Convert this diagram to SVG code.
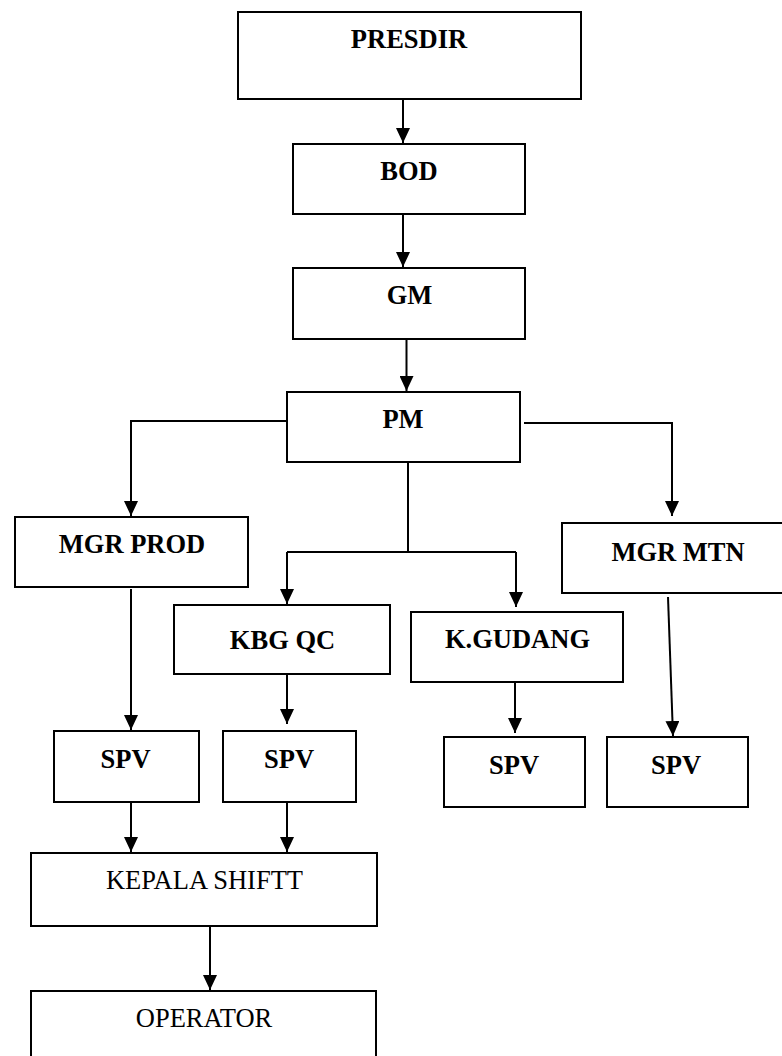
<svg xmlns="http://www.w3.org/2000/svg" width="782" height="1056" viewBox="0 0 782 1056">
<style>
.box{fill:#fff;stroke:#000;stroke-width:2}
.t{font-family:"Liberation Serif","Times New Roman",serif;font-size:26.5px;fill:#000;text-anchor:middle}
.b{font-weight:bold}
.c{fill:none;stroke:#000;stroke-width:2}
</style>
<defs>
<marker id="ah" viewBox="0 0 15 14" refX="15" refY="7" markerWidth="15" markerHeight="14" markerUnits="userSpaceOnUse" orient="auto">
<path d="M0,0 L15,7 L0,14 Z" fill="#000"/>
</marker>
</defs>
<rect width="782" height="1056" fill="#fff"/>
<g id="connectors">
<path class="c" d="M403,99 V143" marker-end="url(#ah)"/>
<path class="c" d="M403,214 V267" marker-end="url(#ah)"/>
<path class="c" d="M406.5,339 V391" marker-end="url(#ah)"/>
<path class="c" d="M288,421 H131 V516" marker-end="url(#ah)"/>
<path class="c" d="M524,423 H672 V516" marker-end="url(#ah)"/>
<path class="c" d="M408,462 V552 M287,552 H516"/>
<path class="c" d="M287,552 V604" marker-end="url(#ah)"/>
<path class="c" d="M516,552 V607" marker-end="url(#ah)"/>
<path class="c" d="M131,589 V730" marker-end="url(#ah)"/>
<path class="c" d="M287,671 V724" marker-end="url(#ah)"/>
<path class="c" d="M515,677 V733" marker-end="url(#ah)"/>
<path class="c" d="M668,597 L673,736" marker-end="url(#ah)"/>
<path class="c" d="M131,802 V852" marker-end="url(#ah)"/>
<path class="c" d="M287,802 V852" marker-end="url(#ah)"/>
<path class="c" d="M210,926 V990" marker-end="url(#ah)"/>
</g>
<g id="presdir"><rect class="box" x="238" y="12" width="343" height="87"/><text class="t b" x="409" y="48">PRESDIR</text></g>
<g id="bod"><rect class="box" x="293" y="144" width="232" height="70"/><text class="t b" x="409" y="180">BOD</text></g>
<g id="gm"><rect class="box" x="293" y="268" width="232" height="71"/><text class="t b" x="409.5" y="304">GM</text></g>
<g id="pm"><rect class="box" x="287" y="392" width="233" height="70"/><text class="t b" x="403" y="428">PM</text></g>
<g id="mgr-prod"><rect class="box" x="15" y="517" width="233" height="70"/><text class="t b" x="132" y="553">MGR PROD</text></g>
<g id="mgr-mtn"><rect class="box" x="562" y="523" width="224" height="70"/><text class="t b" x="678" y="561">MGR MTN</text></g>
<g id="kbg-qc"><rect class="box" x="174" y="605" width="216" height="69"/><text class="t b" x="282.5" y="649">KBG QC</text></g>
<g id="k-gudang"><rect class="box" x="411" y="612" width="212" height="70"/><text class="t b" x="517.5" y="648">K.GUDANG</text></g>
<g id="spv-1"><rect class="box" x="54" y="731" width="145" height="71"/><text class="t b" x="125.5" y="768">SPV</text></g>
<g id="spv-2"><rect class="box" x="223" y="731" width="133" height="71"/><text class="t b" x="289" y="768">SPV</text></g>
<g id="spv-3"><rect class="box" x="444" y="737" width="141" height="70"/><text class="t b" x="514" y="774">SPV</text></g>
<g id="spv-4"><rect class="box" x="607" y="737" width="141" height="70"/><text class="t b" x="676" y="774">SPV</text></g>
<g id="kepala-shiftt"><rect class="box" x="31" y="853" width="346" height="73"/><text class="t" x="204.5" y="889">KEPALA SHIFTT</text></g>
<g id="operator"><rect class="box" x="31" y="991" width="345" height="80"/><text class="t" x="204" y="1027">OPERATOR</text></g>
</svg>
